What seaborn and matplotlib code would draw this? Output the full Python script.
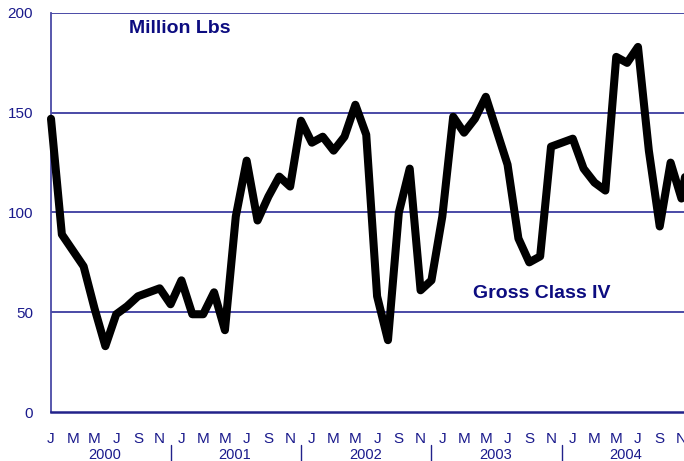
import numpy as np
import pandas as pd
import matplotlib
matplotlib.use("Agg")
import matplotlib.pyplot as plt
import matplotlib.transforms as mtransforms
import seaborn as sns

# ---- data (Jan 2000 .. Dec 2004, monthly) ----
months_2000 = [147, 89, 81, 73, 52, 33, 49, 53, 58, 60, 62, 54]
months_2001 = [66, 49, 49, 60, 41, 98, 126, 96, 108, 118, 113, 146]
months_2002 = [135, 138, 131, 138, 154, 139, 58, 36, 100, 122, 61, 66]
months_2003 = [98, 148, 140, 147, 158, 141, 124, 87, 75, 78, 133, 135]
months_2004 = [137, 122, 115, 111, 178, 175, 183, 131, 93, 125, 107, 140]
years = ["2000", "2001", "2002", "2003", "2004"]
month_letters = ["J", "F", "M", "A", "M", "J", "J", "A", "S", "O", "N", "D"]
y_ticks = [0, 50, 100, 150, 200]

values = months_2000 + months_2001 + months_2002 + months_2003 + months_2004
df = pd.DataFrame({"month": np.arange(len(values)), "value": values})

sns.set_style("white")
plt.rcParams["font.family"] = ["Liberation Sans", "DejaVu Sans"]

W, H = 684, 461
fig = plt.figure(figsize=(W / 100, H / 100), dpi=100)
ax_l, ax_r, ax_b, ax_t = 51, 684, 412, 13
ax = fig.add_axes([ax_l / W, 1 - ax_b / H, (ax_r - ax_l) / W, (ax_b - ax_t) / H])

px_per_month = 10.87

grid_c = "#4A4AA6"
text_c = "#1A1A8C"
title_c = "#0C0C80"

for yv in y_ticks[1:]:
    ax.axhline(yv, color=grid_c, lw=1.4, zorder=1)

sns.lineplot(data=df, x="month", y="value", ax=ax, color="black", lw=5.8,
             zorder=3, clip_on=False)
for ln in ax.get_lines():
    ln.set_solid_joinstyle("round")
    ln.set_solid_capstyle("round")

ax.set_xlim(0, (ax_r - ax_l) / px_per_month)
ax.set_ylim(0, 200)

for s in ["top", "right"]:
    ax.spines[s].set_visible(False)
ax.spines["left"].set_color(grid_c)
ax.spines["left"].set_linewidth(1.3)
ax.spines["bottom"].set_color("#22228A")
ax.spines["bottom"].set_linewidth(1.8)
ax.set_xlabel("")
ax.set_ylabel("")

ax.set_yticks(y_ticks)
ax.set_yticklabels([str(v) for v in y_ticks])
ax.tick_params(axis="y", length=0, pad=13, labelsize=11, labelcolor=text_c)

n = len(values)
major = list(range(0, n, 2))
minor = list(range(1, n, 2))
ax.set_xticks(major)
ax.set_xticklabels([])
ax.set_xticks(minor, minor=True)
ax.tick_params(axis="x", which="major", length=7.2, width=1.0, color="#666680",
               direction="out")
ax.tick_params(axis="x", which="minor", length=2.8, width=1.0, color="#222244",
               direction="out")
ax.set_xlim(0, (ax_r - ax_l) / px_per_month)

trans = mtransforms.blended_transform_factory(ax.transData, ax.transAxes)
axh = ax_b - ax_t
for i in major:
    ax.text(i, -(442.5 - ax_b) / axh, month_letters[i % 12], transform=trans,
            ha="center", va="baseline", fontsize=11, color=text_c, clip_on=False)

for k, yr in enumerate(years):
    ax.text(12 * k + 4.9, -(459 - ax_b) / axh, yr, transform=trans,
            ha="center", va="baseline", fontsize=10.5, color=text_c, clip_on=False)
    if k < len(years) - 1:
        sep = 12 * k + 11
        ax.plot([sep, sep], [-(445 - ax_b) / axh, -(462 - ax_b) / axh],
                transform=trans, color="#22228A", lw=1.0, clip_on=False)

fig.text(180 / W, 1 - 33 / H, "Million Lbs", ha="center", va="baseline",
         fontsize=14, fontweight="bold", color=title_c)
fig.text(541.5 / W, 1 - 298 / H, "Gross Class IV", ha="center", va="baseline",
         fontsize=14, fontweight="bold", color=title_c)

fig.savefig("out.png", dpi=100)
